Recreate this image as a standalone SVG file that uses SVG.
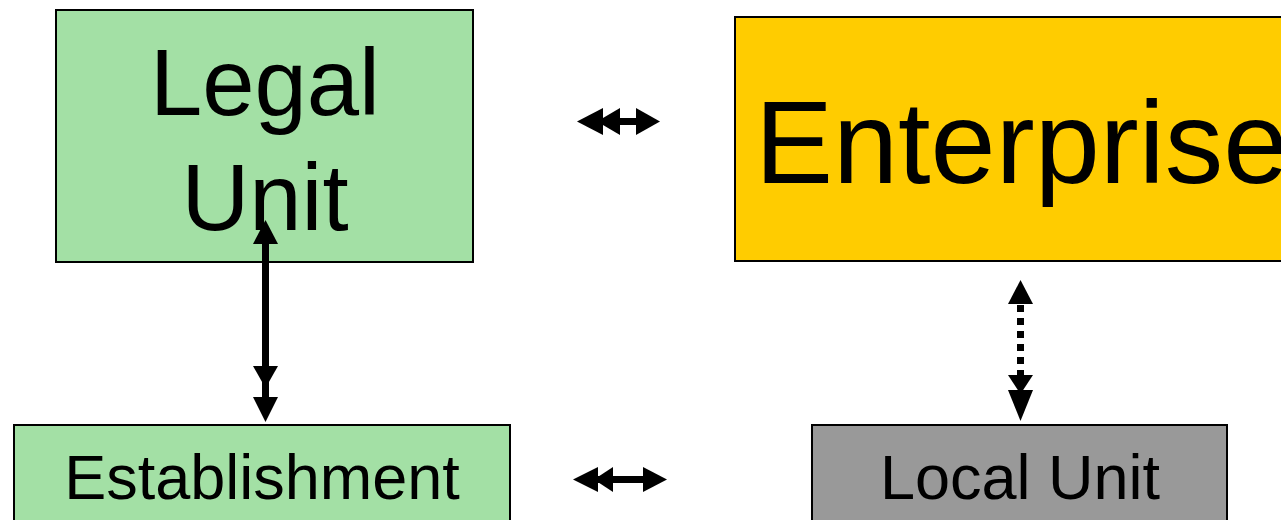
<svg xmlns="http://www.w3.org/2000/svg" width="1281" height="520" viewBox="0 0 1281 520">
<style>
.box{stroke:#000;stroke-width:2}
.t{font-family:"Liberation Sans",Arial,sans-serif;fill:#000}
.ah{fill:#000}
</style>
<rect width="1281" height="520" fill="#fff"/>
<g id="legal-unit">
<rect class="box" x="56" y="10" width="417" height="252" fill="#A3E0A5"/>
<text class="t" x="265" y="115" font-size="94" text-anchor="middle">Legal</text>
<text class="t" x="265" y="230" font-size="94" text-anchor="middle">Unit</text>
</g>
<g id="enterprise">
<rect class="box" x="735" y="17" width="600" height="244" fill="#FFCC00"/>
<text class="t" x="755" y="183" font-size="117">Enterprise</text>
</g>
<g id="establishment">
<rect class="box" x="14" y="425" width="496" height="120" fill="#A3E0A5"/>
<text class="t" x="262" y="499" font-size="63" text-anchor="middle">Establishment</text>
</g>
<g id="local-unit">
<rect class="box" x="812" y="425" width="415" height="120" fill="#999999"/>
<text class="t" x="1020" y="499" font-size="63" text-anchor="middle">Local Unit</text>
</g>
<g id="connectors">
<rect x="600" y="118" width="40" height="7" class="ah"/>
<polygon class="ah" points="577,121.5 603,108 603,135"/>
<polygon class="ah" points="597,121.5 620,108 620,135"/>
<polygon class="ah" points="660,121.5 636,108 636,135"/>
<rect x="596" y="476" width="50" height="7" class="ah"/>
<polygon class="ah" points="573,479.5 598,467 598,492"/>
<polygon class="ah" points="594,479.5 613,467 613,492"/>
<polygon class="ah" points="667,479.5 643,467 643,492"/>
<rect x="262" y="240" width="7" height="160" class="ah"/>
<polygon class="ah" points="265.5,220 253,244 278,244"/>
<polygon class="ah" points="265.5,388 253,366 278,366"/>
<polygon class="ah" points="265.5,422 253,397 278,397"/>
<line x1="1020.5" y1="305" x2="1020.5" y2="378" stroke="#000" stroke-width="7" stroke-dasharray="7 6"/>
<polygon class="ah" points="1020.5,280 1008,304 1033,304"/>
<polygon class="ah" points="1020.5,394 1008,375 1033,375"/>
<polygon class="ah" points="1020.5,421 1008,390 1033,390"/>
</g>
</svg>
